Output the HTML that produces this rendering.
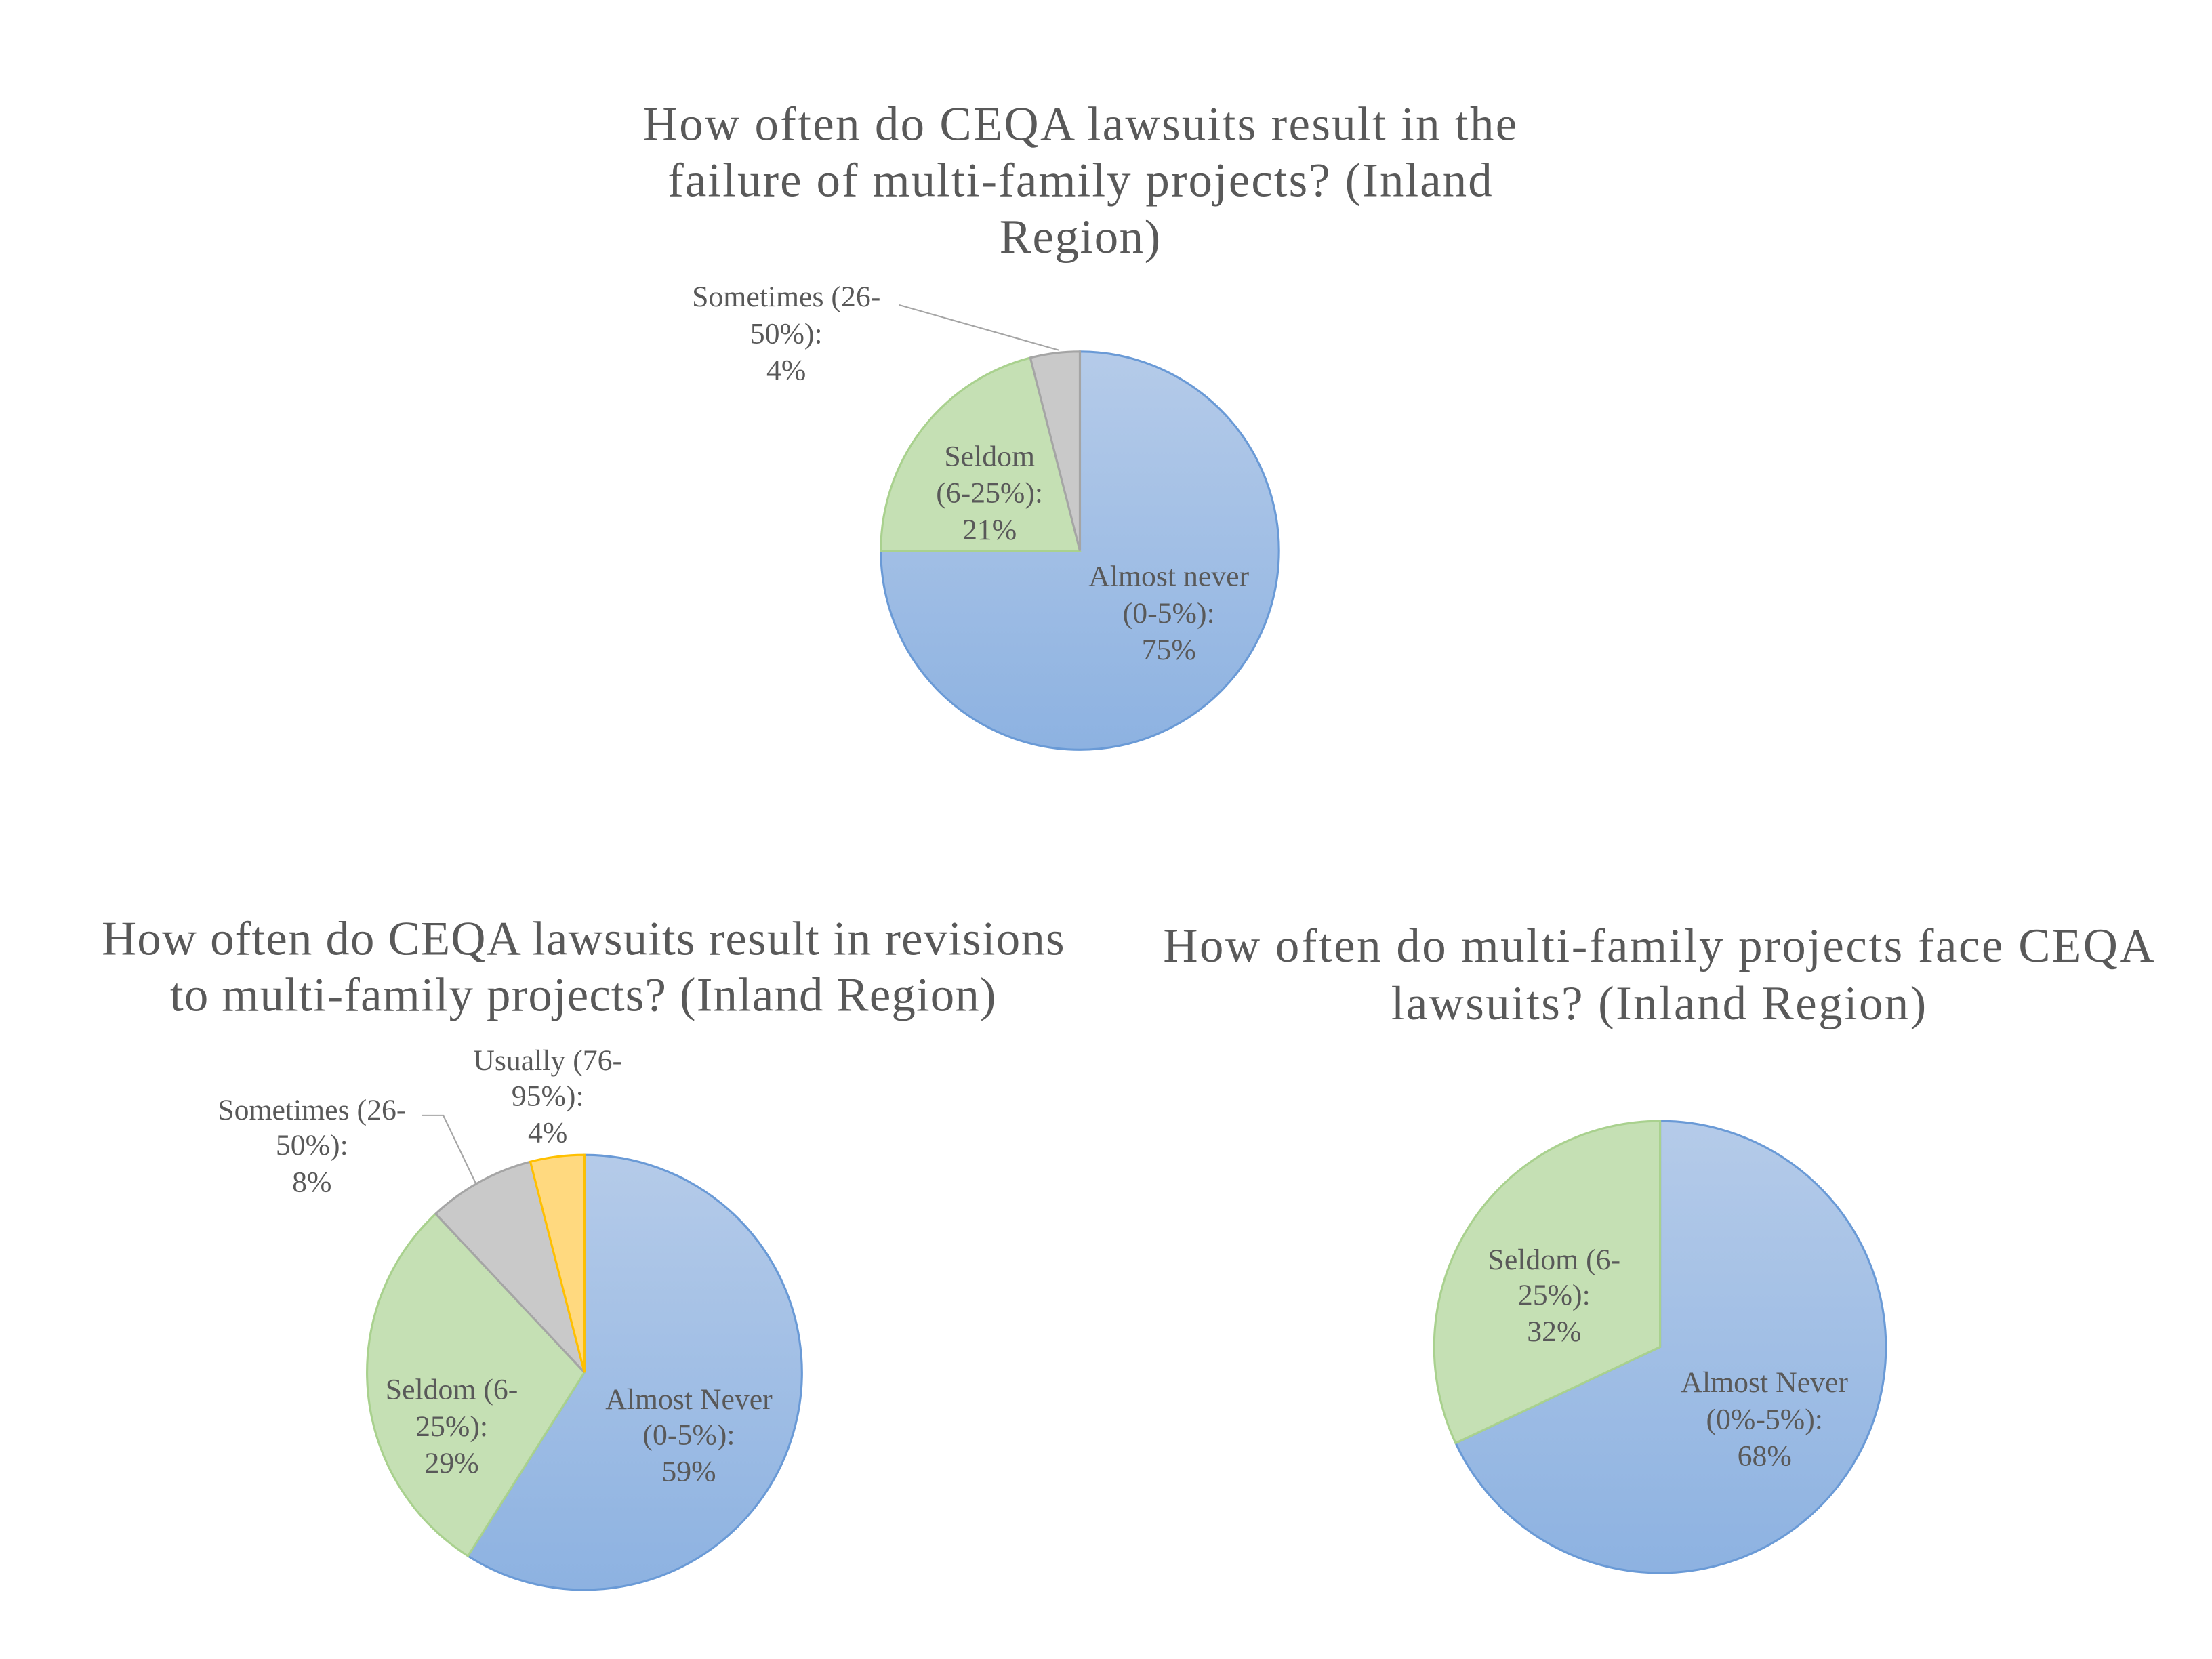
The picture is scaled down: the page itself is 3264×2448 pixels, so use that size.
<!DOCTYPE html>
<html><head><meta charset="utf-8"><style>
html,body{margin:0;padding:0;background:#fff;}
svg{display:block;}
text{font-family:"Liberation Serif",serif;fill:#595959;}
.t{font-size:34px;text-anchor:middle;}
.l{font-size:21px;text-anchor:middle;}
</style></head><body>
<svg width="3264" height="2448" viewBox="0 0 1567 1175" preserveAspectRatio="none" xmlns="http://www.w3.org/2000/svg">
<defs>
<linearGradient id="bl" x1="0" y1="0" x2="0" y2="1">
<stop offset="0" stop-color="#b5cbe9"/><stop offset="1" stop-color="#8db2e1"/></linearGradient>
</defs>
<rect width="1567" height="1175" fill="#fff"/>
<!-- Chart 1 -->
<text class="t" x="765" y="99" textLength="619" lengthAdjust="spacing">How often do CEQA lawsuits result in the</text>
<text class="t" x="765" y="139" textLength="584" lengthAdjust="spacing">failure of multi-family projects? (Inland</text>
<text class="t" x="765" y="179" textLength="114" lengthAdjust="spacing">Region)</text>
<path d="M765,390 L765,249 A141,141 0 1 1 624,390 Z" fill="url(#bl)" stroke="#6a9ad6" stroke-width="1.5"/>
<path d="M765,390 L624,390 A141,141 0 0 1 729.9,253.4 Z" fill="#c5e0b4" stroke="#a9d18e" stroke-width="1.5"/>
<path d="M765,390 L729.9,253.4 A141,141 0 0 1 765,249 Z" fill="#c9c9c9" stroke="#a5a5a5" stroke-width="1.5"/>
<polyline points="637,216 750,248" fill="none" stroke="#a5a5a5" stroke-width="1"/>
<text class="l" x="557" y="217">Sometimes (26-</text>
<text class="l" x="557" y="243">50%):</text>
<text class="l" x="557" y="269">4%</text>
<text class="l" x="701" y="330">Seldom</text>
<text class="l" x="701" y="356">(6-25%):</text>
<text class="l" x="701" y="382">21%</text>
<text class="l" x="828" y="415">Almost never</text>
<text class="l" x="828" y="441">(0-5%):</text>
<text class="l" x="828" y="467">75%</text>
<!-- Chart 2 -->
<text class="t" x="413" y="676" textLength="682" lengthAdjust="spacing">How often do CEQA lawsuits result in revisions</text>
<text class="t" x="413" y="716" textLength="585" lengthAdjust="spacing">to multi-family projects? (Inland Region)</text>
<path d="M414,972 L414,818 A154,154 0 1 1 331.5,1102 Z" fill="url(#bl)" stroke="#6a9ad6" stroke-width="1.5"/>
<path d="M414,972 L331.5,1102 A154,154 0 0 1 308.6,859.7 Z" fill="#c5e0b4" stroke="#a9d18e" stroke-width="1.5"/>
<path d="M414,972 L308.6,859.7 A154,154 0 0 1 375.7,822.8 Z" fill="#c9c9c9" stroke="#a5a5a5" stroke-width="1.5"/>
<path d="M414,972 L375.7,822.8 A154,154 0 0 1 414,818 Z" fill="#ffd97f" stroke="#ffc000" stroke-width="1.5"/>
<polyline points="299,790 314,790 337,838" fill="none" stroke="#a5a5a5" stroke-width="1"/>
<text class="l" x="221" y="793">Sometimes (26-</text>
<text class="l" x="221" y="818">50%):</text>
<text class="l" x="221" y="844">8%</text>
<text class="l" x="388" y="758">Usually (76-</text>
<text class="l" x="388" y="783">95%):</text>
<text class="l" x="388" y="809">4%</text>
<text class="l" x="320" y="991">Seldom (6-</text>
<text class="l" x="320" y="1017">25%):</text>
<text class="l" x="320" y="1043">29%</text>
<text class="l" x="488" y="998">Almost Never</text>
<text class="l" x="488" y="1023">(0-5%):</text>
<text class="l" x="488" y="1049">59%</text>
<!-- Chart 3 -->
<text class="t" x="1175" y="681" textLength="702" lengthAdjust="spacing">How often do multi-family projects face CEQA</text>
<text class="t" x="1175" y="722" textLength="379" lengthAdjust="spacing">lawsuits? (Inland Region)</text>
<path d="M1176,954 L1176,794 A160,160 0 1 1 1031.2,1022.1 Z" fill="url(#bl)" stroke="#6a9ad6" stroke-width="1.5"/>
<path d="M1176,954 L1031.2,1022.1 A160,160 0 0 1 1176,794 Z" fill="#c5e0b4" stroke="#a9d18e" stroke-width="1.5"/>
<text class="l" x="1101" y="899">Seldom (6-</text>
<text class="l" x="1101" y="924">25%):</text>
<text class="l" x="1101" y="950">32%</text>
<text class="l" x="1250" y="986">Almost Never</text>
<text class="l" x="1250" y="1012">(0%-5%):</text>
<text class="l" x="1250" y="1038">68%</text>
</svg>
</body></html>
